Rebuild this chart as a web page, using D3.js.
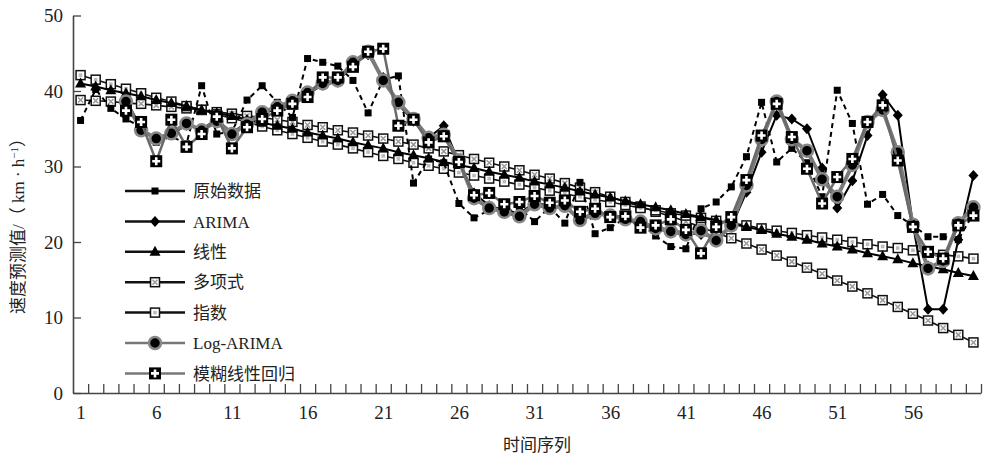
<!DOCTYPE html>
<html>
<head>
<meta charset="utf-8">
<script src="https://cdn.jsdelivr.net/npm/d3@7"></script>
<style>
body{margin:0;background:#fff}
svg text{font-family:"Liberation Serif","Noto Sans CJK SC",serif;fill:#222}
</style>
</head>
<body>
<svg id="chart" width="989" height="456"></svg>
<script>
// series values (index 1..60), null = no prediction
var seq = d3.range(1, 61);
var xLabels = [1, 6, 11, 16, 21, 26, 31, 36, 41, 46, 51, 56];
var yLabels = [0, 10, 20, 30, 40, 50];

var raw = [36.1, 40.2, 37.7, 36.3, 35.2, 33.2, 34.0, 33.0, 40.7, 34.3, 34.6, 38.8, 40.7, 38.5, 36.5, 44.3, 43.8, 43.3, 41.4, 37.1,
           41.5, 42.0, 27.8, 31.0, 30.5, 25.1, 23.2, 24.2, 23.8, 24.5, 22.7, 24.6, 22.5, 27.9, 21.1, 21.9, 23.2, 22.5, 20.8, 19.4,
           19.1, 24.4, 25.3, 27.3, 31.3, 38.5, 30.6, 32.4, 30.5, 26.0, 40.1, 35.7, 25.0, 26.3, 23.5, 22.2, 20.7, 20.7, 20.3, 23.8];
var arima = [null, null, null, 38.8, 35.2, 33.5, 34.2, 35.5, 35.0, 36.2, 34.5, 35.8, 37.0, 37.6, 38.5, 39.6, 40.8, 41.2, 43.5, 44.8,
             41.8, 38.2, 36.0, 33.8, 35.4, 30.5, 26.5, 24.8, 24.2, 23.8, 25.2, 24.8, 24.6, 23.2, 23.8, 23.6, 23.2, 22.6, 22.0, 21.6,
             21.2, 21.0, 20.6, 22.0, 26.6, 31.9, 36.8, 36.3, 35.0, 29.8, 24.5, 28.1, 34.1, 39.5, 36.8, 22.3, 11.1, 11.1, 20.3, 28.8];
var linear = [41.0, 40.6, 40.1, 39.7, 39.3, 38.8, 38.4, 38.0, 37.5, 37.1, 36.7, 36.2, 35.8, 35.4, 35.0, 34.5, 34.1, 33.7, 33.2, 32.8,
              32.4, 31.9, 31.5, 31.1, 30.6, 30.2, 29.8, 29.3, 28.9, 28.5, 28.0, 27.6, 27.2, 26.7, 26.3, 25.9, 25.4, 25.0, 24.6, 24.2,
              23.7, 23.3, 22.9, 22.4, 22.0, 21.6, 21.1, 20.7, 20.3, 19.8, 19.4, 19.0, 18.5, 18.1, 17.7, 17.2, 16.8, 16.4, 15.9, 15.5];
var poly = [38.8, 38.7, 38.6, 38.4, 38.3, 38.1, 37.9, 37.7, 37.5, 37.2, 37.0, 36.7, 36.5, 36.2, 35.9, 35.5, 35.2, 34.8, 34.5, 34.1,
            33.7, 33.3, 32.9, 32.4, 32.0, 31.5, 31.0, 30.5, 30.0, 29.5, 28.9, 28.4, 27.8, 27.2, 26.6, 26.0, 25.3, 24.7, 24.0, 23.4,
            22.7, 22.0, 21.2, 20.5, 19.8, 19.0, 18.2, 17.4, 16.6, 15.8, 14.9, 14.1, 13.2, 12.3, 11.4, 10.5, 9.6, 8.6, 7.7, 6.7];
var expo = [42.1, 41.5, 40.9, 40.3, 39.7, 39.1, 38.6, 38.0, 37.5, 36.9, 36.4, 35.9, 35.3, 34.8, 34.3, 33.8, 33.3, 32.9, 32.4, 31.9,
            31.4, 31.0, 30.5, 30.1, 29.7, 29.2, 28.8, 28.4, 28.0, 27.6, 27.2, 26.8, 26.4, 26.0, 25.6, 25.3, 24.9, 24.5, 24.2, 23.8,
            23.5, 23.2, 22.8, 22.5, 22.2, 21.8, 21.5, 21.2, 20.9, 20.6, 20.3, 20.0, 19.7, 19.4, 19.2, 18.9, 18.6, 18.3, 18.1, 17.8];
var logArima = [null, null, null, 38.6, 34.8, 33.7, 34.4, 35.7, 34.8, 36.0, 34.3, 35.6, 37.2, 37.9, 38.7, 39.8, 41.0, 41.4, 43.8, 45.2,
                41.4, 38.5, 36.3, 33.8, 34.2, 30.8, 25.8, 24.5, 24.0, 23.4, 25.0, 24.5, 24.8, 22.9, 23.8, 23.5, 23.0, 22.7, 21.8, 21.4,
                21.0, 21.5, 20.2, 22.2, 27.5, 33.6, 38.6, 33.6, 32.1, 28.3, 26.0, 30.2, 35.9, 37.5, 31.9, 22.3, 16.5, 17.5, 22.5, 24.6];
var fuzzy = [null, null, null, 37.4, 35.9, 30.7, 36.2, 32.6, 34.3, 36.6, 32.4, 35.2, 36.3, 37.4, 38.3, 39.2, 41.8, 41.8, 43.2, 45.2,
             45.6, 35.4, 36.2, 33.2, 34.0, 30.6, 26.2, 26.5, 25.0, 25.3, 26.1, 25.2, 25.5, 24.0, 24.4, 23.3, 23.4, 21.9, 22.2, 23.0,
             21.6, 18.5, 22.0, 23.3, 28.2, 34.1, 38.3, 33.9, 29.7, 25.1, 28.6, 31.0, 35.9, 38.1, 30.8, 22.0, 18.7, 17.8, 22.2, 23.5];

var names = ["原始数据", "ARIMA", "线性", "多项式", "指数", "Log-ARIMA", "模糊线性回归"];

var series = [
  {name: names[3], values: poly, marker: "poly", color: "#111", width: 1.6},
  {name: names[4], values: expo, marker: "exp", color: "#111", width: 1.6},
  {name: names[2], values: linear, marker: "tri", color: "#000", width: 2},
  {name: names[0], values: raw, marker: "sq", color: "#000", width: 2, dash: "5,4"},
  {name: names[1], values: arima, marker: "dia", color: "#000", width: 2},
  {name: names[5], values: logArima, marker: "circ", color: "#7a7a7a", width: 4},
  {name: names[6], values: fuzzy, marker: "plus", color: "#6a6a6a", width: 2.5}
];
var legendOrder = [3, 4, 2, 0, 1, 5, 6];

var svg = d3.select("#chart");

var x = d3.scaleLinear().domain([0.5, 60.5]).range([73, 981]);
var y = d3.scaleLinear().domain([0, 50]).range([393, 15.5]);

function marker(g, type, cx, cy) {
  if (type == "sq") {
    g.append("rect").attr("x", cx - 3.5).attr("y", cy - 3.5).attr("width", 7).attr("height", 7).attr("fill", "#000");
  } else if (type == "dia") {
    g.append("path").attr("d", "M" + cx + "," + (cy - 5.5) + "L" + (cx + 5) + "," + cy + "L" + cx + "," + (cy + 5.5) + "L" + (cx - 5) + "," + cy + "Z").attr("fill", "#000");
  } else if (type == "tri") {
    g.append("path").attr("d", "M" + cx + "," + (cy - 6) + "L" + (cx + 5.5) + "," + (cy + 4) + "L" + (cx - 5.5) + "," + (cy + 4) + "Z").attr("fill", "#000");
  } else if (type == "poly" || type == "exp") {
    g.append("rect").attr("x", cx - 4.5).attr("y", cy - 4.5).attr("width", 9).attr("height", 9)
      .attr("fill", "#fff").attr("stroke", "#111").attr("stroke-width", 1.5);
    if (type == "poly") {
      g.append("path").attr("d", "M" + (cx - 2.5) + "," + (cy - 2.5) + "L" + (cx + 2.5) + "," + (cy + 2.5) + "M" + (cx + 2.5) + "," + (cy - 2.5) + "L" + (cx - 2.5) + "," + (cy + 2.5))
        .attr("stroke", "#999").attr("stroke-width", 1.5);
    } else {
      g.append("rect").attr("x", cx - 1.8).attr("y", cy - 1.8).attr("width", 3.6).attr("height", 3.6).attr("fill", "#bbb");
    }
  } else if (type == "circ") {
    g.append("circle").attr("cx", cx).attr("cy", cy).attr("r", 6).attr("fill", "#000").attr("stroke", "#888").attr("stroke-width", 2.5);
  } else if (type == "plus") {
    g.append("rect").attr("x", cx - 6).attr("y", cy - 6).attr("width", 12).attr("height", 12).attr("fill", "#000");
    g.append("path").attr("d", "M" + (cx - 4) + "," + cy + "L" + (cx + 4) + "," + cy + "M" + cx + "," + (cy - 4) + "L" + cx + "," + (cy + 4))
      .attr("stroke", "#fff").attr("stroke-width", 2.6);
  }
}

// axes
var yAxis = d3.axisLeft(y).tickValues(yLabels).tickSize(-8).tickSizeOuter(0).tickPadding(10);
var gy = svg.append("g").attr("transform", "translate(73,0)").call(yAxis);
var xMinor = d3.axisBottom(x).tickValues(d3.range(1.5, 61, 1)).tickSize(-9).tickSizeOuter(0).tickFormat("");
var gx = svg.append("g").attr("transform", "translate(0,393)").call(xMinor);
var xAxis = d3.axisBottom(x).tickValues(xLabels).tickSize(0).tickPadding(13);
var gxl = svg.append("g").attr("transform", "translate(0,393)").call(xAxis);
gxl.select(".domain").remove();
[gy, gx].forEach(function(g) {
  g.select(".domain").attr("stroke", "#444").attr("stroke-width", 1.6);
  g.selectAll(".tick line").attr("stroke", "#444").attr("stroke-width", 1.3);
});
svg.selectAll(".tick text").style("font-size", "19px").attr("fill", "#222");

svg.append("text").attr("x", 537).attr("y", 451).attr("text-anchor", "middle")
  .style("font-size", "17px").text("时间序列");

var yt = svg.append("text").attr("transform", "translate(24,222) rotate(-90)").attr("text-anchor", "middle")
  .style("font-size", "17px");
yt.append("tspan").text("速度预测值/（ km · h");
yt.append("tspan").attr("baseline-shift", "super").style("font-size", "11px").text("−1");
yt.append("tspan").text("）");

// lines + markers
series.forEach(function(s) {
  var pts = seq.map(function(d, i) { return {i: d, v: s.values[i]}; });
  var line = d3.line().defined(function(d) { return d.v != null; })
    .x(function(d) { return x(d.i); }).y(function(d) { return y(d.v); });
  var g = svg.append("g");
  g.append("path").datum(pts).attr("d", line).attr("fill", "none")
    .attr("stroke", s.color).attr("stroke-width", s.width)
    .attr("stroke-dasharray", s.dash || null).attr("stroke-linejoin", "round");
  pts.forEach(function(p) {
    if (p.v != null) marker(g, s.marker, x(p.i), y(p.v));
  });
});

// legend
var lg = svg.append("g");
legendOrder.forEach(function(k, j) {
  var s = series[k];
  var ly = 191 + j * 30.4;
  lg.append("line").attr("x1", 125).attr("x2", 185).attr("y1", ly).attr("y2", ly)
    .attr("stroke", s.marker == "circ" || s.marker == "plus" ? "#777" : "#111").attr("stroke-width", 2.5);
  marker(lg, s.marker, 155, ly);
  lg.append("text").attr("x", 193).attr("y", ly).attr("dy", "0.36em").style("font-size", "17px").text(s.name);
});
</script>
</body>
</html>
